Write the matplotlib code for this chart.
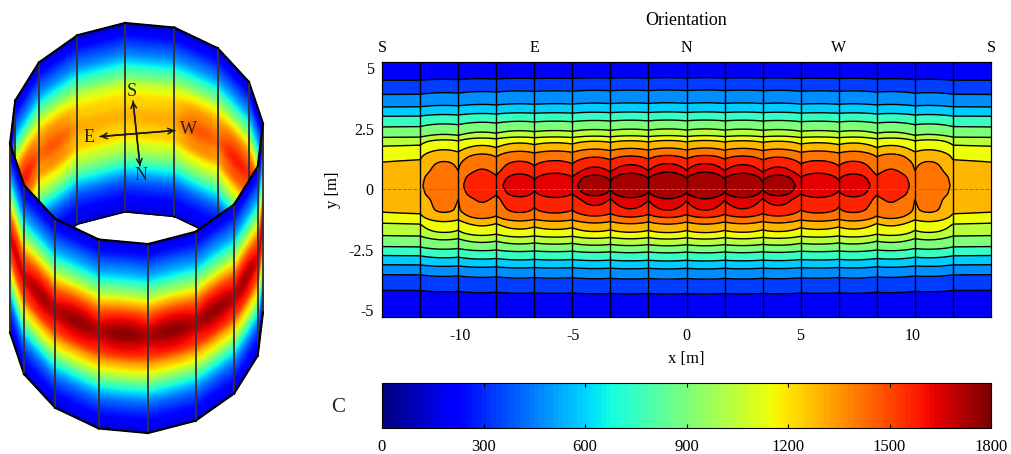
import numpy as np
import matplotlib
matplotlib.use("Agg")
import matplotlib.pyplot as plt
from matplotlib.cm import ScalarMappable
from matplotlib.colors import Normalize

plt.rcParams['font.family'] = ['Liberation Serif']
plt.rcParams['axes.unicode_minus'] = False

W, H = 1011, 454

# contour levels and the colour of each band
levels = [0, 270, 400, 530, 670, 820, 970, 1090, 1220, 1350, 1490, 1600, 1680, 1800]
band_values = [190, 337, 477, 590, 750, 900, 1040, 1150, 1290, 1420, 1570, 1640, 1740]

# C along the middle panels, against y
y_knots = [-5.3, -4.34, -3.72, -3.3, -2.98, -2.64, -2.36, -2.07, -1.82, -1.45, -1.2, -0.91,
           -0.41, -0.2, 0.14, 0.48, 0.7, 1.07, 1.4, 1.69, 2.02, 2.19, 2.48, 2.85, 3.18, 3.55, 4.09, 4.59, 5.3]
c_knots = [130, 270, 400, 530, 670, 820, 970, 1090, 1220, 1350, 1490, 1600,
           1680, 1750, 1790, 1750, 1680, 1600, 1490, 1350, 1220, 1090, 970, 820, 670, 530, 400, 270, 130]

# how far the panel to panel change reaches away from y=0
g_y = [-5.3, -4.3, -3, -2, -1, 0.14, 1.2, 2, 3, 4.5, 5.3]
g_val = [0.0, 0.05, 0.14, 0.33, 0.68, 1.0, 0.68, 0.33, 0.14, 0.05, 0.0]

# C at y=0, left half, panel by panel (right half is the mirror)
panel_mid = [1275, 1450, 1575, 1660, 1675, 1740, 1770, 1785]
panel_edge = [1265, 1285, 1400, 1520, 1610, 1630, 1690, 1705, 1710]

PANEL_W = 1.68
N_PANELS = 16
mids = np.array(panel_mid + panel_mid[::-1], dtype=float)
edges = np.array(panel_edge + panel_edge[-2::-1], dtype=float)

# the read-off profiles are taken smooth in y, kinks only come from reading them at points
y_fine = np.arange(-6.3, 6.3, 0.01)


def smooth(values, width):
    n = int(width / 0.01)
    return np.convolve(values, np.ones(n) / n, mode='same')


base_fine = smooth(np.interp(y_fine, y_knots, c_knots), 0.2)
g_fine = smooth(np.interp(y_fine, g_y, g_val), 0.9)


def field(x, y):
    t = (x + 13.44) / PANEL_W
    i = np.clip(np.floor(t).astype(int), 0, N_PANELS - 1)
    t = t - i
    # quadratic inside a panel, through edge, middle, edge
    at_zero = edges[i] * (2*t - 1) * (t - 1) + 4 * mids[i] * t * (1 - t) + edges[i + 1] * t * (2*t - 1)
    c = np.interp(y, y_fine, base_fine) - (1790 - at_zero) * np.interp(y, y_fine, g_fine)
    return np.clip(c, 0, 1800)


fig = plt.figure(figsize=(W / 100, H / 100), dpi=100)


def px_axes(x0, y0, x1, y1):
    return fig.add_axes([x0 / W, 1 - y1 / H, (x1 - x0) / W, (y1 - y0) / H])


jet = plt.get_cmap('jet')
norm = Normalize(0, 1800)

# ---- cylinder, whole figure in pixels
cyl = fig.add_axes([0, 0, 1, 1])
cyl.set_xlim(0, W)
cyl.set_ylim(H, 0)
cyl.axis('off')

CX, CY, RX, RY, HEIGHT = 136.5, 133.5, 127, 111, 189
FRONT = 84.8


def ring(x_m):
    a = np.radians(FRONT - x_m / PANEL_W * 22.5)
    return CX + RX * np.cos(a), CY + RY * np.sin(a)


y_face = np.linspace(-5.3, 5.3, 120)
z = 1


def draw_face(k, lw_top, lw_bottom):
    global z
    x_m = np.linspace(-13.44 + k * PANEL_W, -13.44 + (k + 1) * PANEL_W, 12)
    # faces are flat: straight from corner to corner
    x0, y0 = ring(x_m[0])
    x1, y1 = ring(x_m[-1])
    rx = np.linspace(x0, x1, 12)
    ry = np.linspace(y0, y1, 12)
    X = np.tile(rx, (len(y_face), 1))
    Y = ry + (5.3 - y_face)[:, None] / 10.6 * HEIGHT
    xx, yy = np.meshgrid(x_m, y_face)
    cyl.pcolormesh(X, Y, field(xx, yy), cmap=jet, norm=norm, shading='gouraud', zorder=z)
    for px, py in [(x0, y0), (x1, y1)]:
        cyl.plot([px, px], [py, py + HEIGHT], color='#333333', lw=1.3, zorder=z + 1)
    cyl.plot([x0, x1], [y0, y1], color='black', lw=lw_top, zorder=z + 1)
    cyl.plot([x0, x1], [y0 + HEIGHT, y1 + HEIGHT], color='black', lw=lw_bottom, zorder=z + 1)
    z += 2


# back wall first, then the front wall over it
mid_sin = [np.sin(np.radians(FRONT - (-13.44 + (k + 0.5) * PANEL_W) / PANEL_W * 22.5)) for k in range(N_PANELS)]
for k in range(N_PANELS):
    if mid_sin[k] < 0:
        draw_face(k, 1.5, 1.0)
for k in range(N_PANELS):
    if mid_sin[k] >= 0:
        draw_face(k, 1.5, 1.5)

# compass on the inner wall
for a, b in [((100, 136.5), (175, 130.5)), ((175, 130.5), (100, 136.5)),
             ((133, 101), (140, 166)), ((140, 166), (133, 101))]:
    cyl.annotate('', xy=a, xytext=b, zorder=z,
                 arrowprops=dict(arrowstyle='->', color='#1a1a1a', lw=1.1, shrinkA=0, shrinkB=0))
for lab, x, y in [('S', 132, 92), ('E', 89, 137), ('W', 188, 129), ('N', 141, 176)]:
    cyl.text(x, y, lab, fontsize=13, color='#222222', ha='center', va='center', zorder=z)

# ---- contour map
ax = px_axes(382, 62, 991, 317)
xg = np.linspace(-13.44, 13.44, 1345)
yg = np.linspace(-5.29, 5.25, 500)
XX, YY = np.meshgrid(xg, yg)
CC = field(XX, YY)
ax.contourf(XX, YY, CC, levels=levels, colors=[jet(norm(v)) for v in band_values])
ax.contour(XX, YY, CC, levels=levels[1:-1], colors='black', linewidths=1.0, linestyles='solid')
for k in range(1, N_PANELS):
    ax.axvline(-13.44 + k * PANEL_W, color='black', lw=1.0)
ax.axhline(0, color='#777777', lw=0.7, ls='--')
ax.set_xlim(-13.44, 13.44)
ax.set_ylim(-5.29, 5.25)
ax.set_xticks([-10, -5, 0, 5, 10])
ax.set_yticks([-5, -2.5, 0, 2.5, 5])
ax.set_yticklabels(['-5', '-2.5', '0', '2.5', '5'])
ax.tick_params(length=0, labelsize=11.5, pad=8)
ax.tick_params(axis='y', pad=6)
ax.set_xlabel('x [m]', fontsize=12, labelpad=5)
ax.set_ylabel('y [m]', fontsize=12, labelpad=5)

top = ax.twiny()
top.set_xlim(-13.44, 13.44)
top.set_xticks([-13.44, -6.72, 0, 6.72, 13.44])
top.set_xticklabels(['S', 'E', 'N', 'W', 'S'])
top.tick_params(length=0, labelsize=11.5, pad=4)
top.set_xlabel('Orientation', fontsize=13, labelpad=11)

# ---- colour bar
cax = px_axes(382, 383, 991, 428)
cb = fig.colorbar(ScalarMappable(norm, plt.get_cmap('jet', 128)), cax=cax, orientation='horizontal')
cb.set_ticks([0, 300, 600, 900, 1200, 1500, 1800])
cax.tick_params(direction='in', length=3, width=0.8, labelsize=12, pad=8, top=True)
cyl.text(338, 408, 'C', fontsize=15, ha='center', va='center', color='#222222', zorder=z)

fig.savefig('out.png', dpi=100)
